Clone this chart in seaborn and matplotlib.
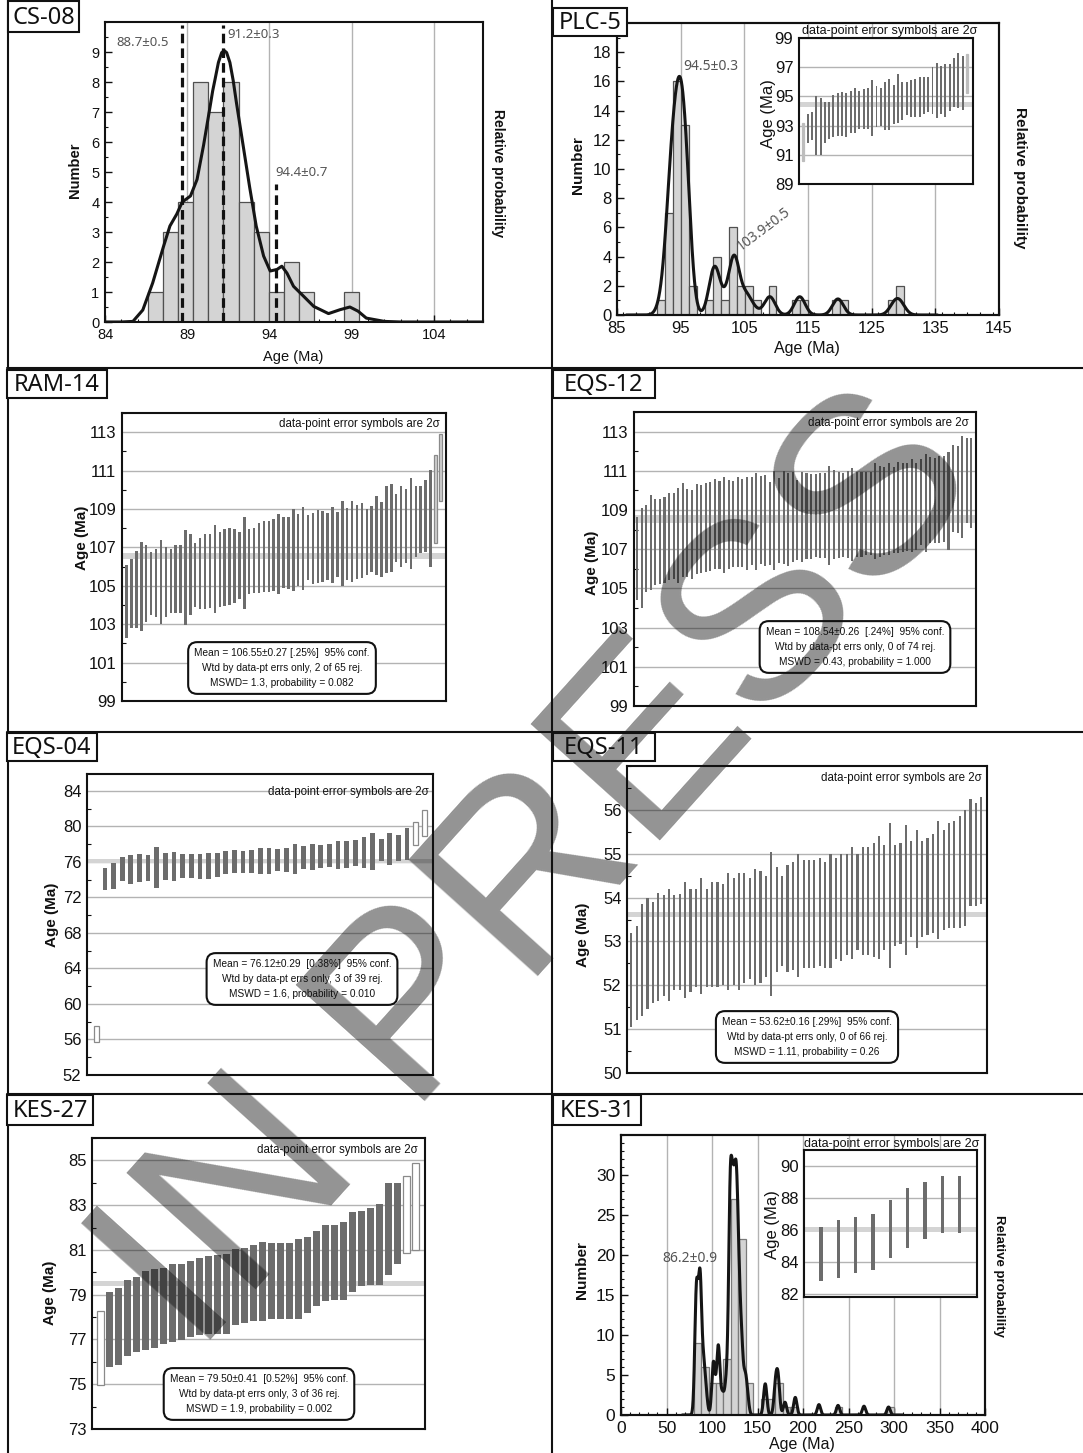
import numpy as np
import matplotlib
matplotlib.use("Agg")
import matplotlib.pyplot as plt
import seaborn as sns
from matplotlib.patches import Rectangle
from matplotlib.lines import Line2D
from matplotlib.ticker import MultipleLocator

# ======================= DATA =======================
# --- CS-08 histogram + probability curve ---
cs08_bin_start = 86.64
cs08_bin_width = 0.914
cs08_counts = [1, 3, 4, 8, 7, 8, 4, 3, 1, 2, 1, 0, 0, 1]
cs08_curve_age = [84.0, 85.0, 85.7, 86.3, 86.9, 87.55, 87.95, 88.37, 88.7, 89.2,
                  89.6, 90.0, 90.2, 90.4, 90.55, 90.7, 90.9, 91.1, 91.25, 91.4,
                  91.6, 91.8, 92.0, 92.2, 92.4, 92.6, 92.8, 93.2, 93.65, 94.05,
                  94.46, 94.76, 95.07, 95.47, 96.08, 96.7, 97.6, 98.3, 98.9, 99.4,
                  99.9, 101.0, 102.0, 107.0]
cs08_curve_val = [0.0, 0.0, 0.02, 0.4, 1.3, 2.5, 3.2, 3.6, 4.0, 4.2,
                  4.75, 5.9, 6.55, 7.2, 7.7, 8.1, 8.65, 8.98, 9.05, 8.98,
                  8.65, 8.05, 7.3, 6.6, 5.9, 5.2, 4.5, 3.2, 2.2, 1.7,
                  1.75, 1.86, 1.63, 1.19, 0.86, 0.52, 0.28, 0.41, 0.5, 0.36,
                  0.13, 0.02, 0.0, 0.0]
cs08_peak_ages = [88.7, 91.2, 94.4]
cs08_peak_tops = [9.9, 9.9, 4.6]
cs08_peak_labels = ["88.7±0.5", "91.2±0.3", "94.4±0.7"]

# --- PLC-5 histogram + probability curve (peak components) ---
plc_bin_start = 91.3
plc_bin_width = 1.25
plc_counts = [1, 7, 16, 13, 2, 0, 1, 4, 1, 6, 2, 2, 1, 0, 2, 0, 0, 1, 1, 0,
              0, 0, 1, 1, 0, 0, 0, 0, 0, 1, 2]
plc_comp_age = [92.3, 93.5, 94.7, 95.8, 100.3, 101.8, 103.4, 105.3, 106.6,
                109.0, 113.7, 119.7, 128.6, 129.5]
plc_comp_height = [1.0, 7.4, 10.1, 8.0, 3.2, 0.6, 3.9, 1.2, 0.3,
                   1.25, 1.25, 1.1, 0.65, 0.65]
plc_bw = 0.85
plc_labels = ["94.5±0.3", "103.9±0.5"]
# PLC-5 inset weighted mean
plc_in_top = [93.2, 93.8, 93.9, 95.0, 94.9, 94.6, 94.6, 95.1, 95.2, 95.3,
              95.2, 95.4, 95.6, 95.4, 95.5, 95.6, 96.1, 95.7, 95.6, 96.0,
              96.2, 95.8, 96.5, 96.0, 96.0, 96.1, 96.2, 96.3, 96.3, 96.3,
              97.0, 97.3, 97.1, 97.2, 97.2, 97.6, 98.0, 97.8, 97.9]
plc_in_bot = [90.6, 91.8, 92.0, 91.0, 91.0, 91.8, 92.1, 92.2, 92.3, 92.3,
              92.2, 92.5, 92.5, 92.8, 92.8, 92.8, 92.3, 92.9, 93.0, 92.7,
              92.7, 93.1, 93.2, 93.4, 93.7, 93.6, 93.6, 93.6, 93.8, 93.9,
              93.8, 93.5, 93.8, 93.6, 94.0, 94.3, 94.2, 94.1, 95.2]
plc_in_status = ["r"] + ["a"] * 37 + ["r"]
plc_in_mean, plc_in_band = 94.45, 0.17

# --- KES-31 histogram + probability curve ---
kes31_bin_start = 80.0
kes31_bin_width = 8.15
kes31_counts = [9, 6, 4, 4, 7, 27, 22, 4, 0, 2, 2, 4, 1, 1, 0, 0, 0, 0, 0, 1,
                0, 0, 0, 0, 0, 0, 1]
kes31_comp_age = [82.9, 86.9, 90.8, 93.6, 101.6, 106.9, 111.5, 115.8, 120.0,
                  123.2, 126.4, 129.2, 132.4, 136.3, 138.8, 158.5, 169.8,
                  172.6, 180.2, 191.5, 217.5, 238.5, 267.0, 294.0]
kes31_comp_height = [15.3, 16.4, 5.5, 2.0, 6.6, 8.6, 2.5, 4.0, 25.7,
                     21.3, 23.3, 13.6, 8.0, 4.0, 2.0, 3.9, 3.5,
                     4.3, 1.6, 2.2, 1.3, 1.2, 1.1, 1.0]
kes31_bw = 1.8
kes31_label = "86.2±0.9"
kes31_in_top = [86.15, 86.6, 86.8, 87.0, 87.9, 88.6, 89.0, 89.35, 89.35]
kes31_in_bot = [82.8, 83.0, 83.3, 83.5, 84.25, 84.85, 85.4, 85.8, 85.8]
kes31_in_status = ["a"] * 9
kes31_in_mean, kes31_in_band = 86.05, 0.16

# --- RAM-14 weighted mean ---
ram_top = [106.1, 106.4, 106.8, 107.3, 107.1, 106.75, 106.9, 107.4, 107.0, 106.9,
           107.1, 107.1, 107.9, 107.7, 107.25, 107.5, 107.7, 107.7, 108.15, 107.8,
           107.95, 108.0, 107.95, 107.8, 108.6, 107.95, 108.0, 108.25, 108.35, 108.35,
           108.5, 108.75, 108.6, 108.6, 109.0, 108.75, 109.1, 108.7, 108.8, 108.95,
           108.9, 108.8, 109.1, 108.85, 109.4, 109.05, 109.4, 109.2, 109.3, 109.0,
           109.15, 109.7, 109.35, 110.2, 110.3, 109.8, 110.2, 110.05, 110.6, 110.2,
           110.2, 110.5, 111.05, 111.8, 112.9]
ram_bot = [102.3, 102.8, 102.8, 102.65, 103.1, 103.5, 103.4, 103.0, 103.4, 103.6,
           103.6, 103.6, 102.95, 103.5, 103.9, 103.8, 103.8, 103.85, 103.6, 103.9,
           103.95, 104.0, 104.1, 104.3, 103.8, 104.55, 104.6, 104.6, 104.7, 104.7,
           104.75, 104.55, 104.9, 104.85, 104.75, 105.0, 104.8, 105.3, 105.1, 105.15,
           105.2, 105.3, 105.15, 105.45, 105.0, 105.3, 105.2, 105.35, 105.4, 105.55,
           105.7, 105.55, 105.45, 105.65, 105.7, 106.25, 106.0, 106.2, 105.85, 106.5,
           106.7, 106.75, 106.0, 107.25, 109.4]
ram_status = ["a"] * 63 + ["r"] * 2
ram_mean, ram_band = 106.55, 0.15
ram_stats = ["Mean = 106.55±0.27 [.25%]  95% conf.",
             "Wtd by data-pt errs only, 2 of 65 rej.",
             "MSWD= 1.3, probability = 0.082"]

# --- EQS-12 weighted mean ---
eqs12_top = [108.66, 109.1, 109.25, 109.77, 109.55, 109.56, 109.68, 109.85, 109.89, 110.1,
             110.36, 110.06, 110.0, 110.33, 110.28, 110.4, 110.45, 110.6, 110.48, 110.67,
             110.53, 110.48, 110.67, 110.6, 110.67, 110.67, 110.9, 110.74, 110.79, 110.41,
             110.99, 110.62, 110.99, 110.9, 110.96, 110.53, 110.96, 110.87, 110.84, 110.84,
             110.87, 110.87, 111.25, 111.04, 110.96, 110.9, 111.0, 111.13, 110.96, 110.96,
             110.96, 110.96, 111.42, 111.25, 111.21, 111.38, 111.21, 111.47, 111.38, 111.42,
             111.59, 111.38, 111.59, 111.86, 111.69, 111.64, 111.76, 111.76, 111.98, 112.32,
             112.27, 112.75, 112.66, 112.66]
eqs12_bot = [104.4, 104.0, 104.8, 104.9, 105.17, 105.2, 105.25, 105.42, 105.46, 105.25,
             105.6, 105.56, 105.5, 105.73, 105.81, 105.85, 105.88, 105.97, 105.97, 105.8,
             105.97, 106.07, 106.1, 106.1, 105.93, 106.19, 105.93, 106.24, 106.14, 106.19,
             105.93, 106.3, 106.27, 106.14, 106.36, 106.44, 106.36, 106.48, 106.48, 106.61,
             106.53, 106.53, 106.19, 106.48, 106.53, 106.61, 106.53, 106.41, 106.61, 106.61,
             106.7, 106.7, 106.48, 106.61, 106.7, 106.7, 106.82, 106.79, 106.87, 106.92,
             106.87, 106.96, 107.21, 106.87, 107.3, 107.3, 107.33, 107.38, 106.96, 107.89,
             107.81, 107.55, 108.32, 108.06]
eqs12_status = ["a"] * 74
eqs12_mean, eqs12_band = 108.54, 0.21
eqs12_stats = ["Mean = 108.54±0.26  [.24%]  95% conf.",
               "Wtd by data-pt errs only, 0 of 74 rej.",
               "MSWD = 0.43, probability = 1.000"]

# --- EQS-04 weighted mean ---
eqs04_top = [57.5, 75.3, 75.9, 76.5, 76.8, 76.9, 76.8, 77.7, 76.95, 77.1, 76.9,
             76.9, 76.85, 77.0, 77.0, 77.2, 77.3, 77.2, 77.35, 77.55, 77.6,
             77.5, 77.55, 78.0, 77.8, 78.05, 77.9, 78.0, 78.35, 78.35, 78.5,
             78.8, 79.3, 78.55, 79.25, 79.0, 79.8, 80.5, 81.8]
eqs04_bot = [55.75, 72.8, 73.0, 73.8, 73.5, 73.7, 73.8, 73.1, 74.0, 73.9, 74.2,
             74.2, 74.1, 74.1, 74.3, 74.6, 74.7, 74.75, 74.7, 74.6, 74.65,
             75.0, 74.9, 74.6, 75.2, 75.1, 75.35, 75.45, 75.25, 75.3, 75.5,
             75.3, 75.1, 76.05, 75.6, 76.1, 76.2, 77.9, 78.9]
eqs04_status = ["r"] + ["a"] * 36 + ["r"] * 2
eqs04_mean, eqs04_band = 76.12, 0.22
eqs04_stats = ["Mean = 76.12±0.29  [0.38%]  95% conf.",
               "Wtd by data-pt errs only, 3 of 39 rej.",
               "MSWD = 1.6, probability = 0.010"]

# --- EQS-11 weighted mean ---
eqs11_top = [53.2, 53.35, 53.85, 54.0, 53.9, 54.1, 54.05, 54.2, 54.05, 54.08,
             54.35, 54.2, 54.2, 54.45, 54.2, 54.35, 54.35, 54.3, 54.55, 54.45,
             54.55, 54.55, 54.45, 54.65, 54.6, 54.5, 55.05, 54.7, 54.5, 54.75,
             54.8, 55.0, 54.85, 54.85, 54.85, 54.9, 54.8, 55.0, 54.9, 55.0,
             55.0, 55.15, 55.0, 55.15, 55.15, 55.25, 55.4, 55.2, 55.7, 55.2,
             55.25, 55.65, 55.3, 55.55, 55.3, 55.35, 55.45, 55.75, 55.55, 55.7,
             55.75, 55.85, 56.0, 56.25, 56.15, 56.3]
eqs11_bot = [51.05, 51.2, 51.3, 51.45, 51.6, 51.65, 51.75, 51.65, 51.9, 51.9,
             51.7, 51.85, 51.95, 51.8, 51.95, 51.95, 51.95, 52.0, 51.9, 52.0,
             51.9, 52.05, 52.15, 52.0, 52.05, 52.2, 51.75, 52.3, 52.45, 52.3,
             52.35, 52.2, 52.4, 52.4, 52.4, 52.45, 52.4, 52.4, 52.6, 52.55,
             52.7, 52.6, 52.8, 52.7, 52.7, 52.65, 52.6, 52.8, 52.4, 52.9,
             52.95, 52.7, 53.1, 52.85, 53.1, 53.15, 53.2, 53.05, 53.25, 53.3,
             53.3, 53.3, 53.35, 53.8, 53.8, 53.85]
eqs11_status = ["a"] * 66
eqs11_mean, eqs11_band = 53.62, 0.06
eqs11_stats = ["Mean = 53.62±0.16 [.29%]  95% conf.",
               "Wtd by data-pt errs only, 0 of 66 rej.",
               "MSWD = 1.11, probability = 0.26"]

# --- KES-27 weighted mean ---
kes27_top = [78.25, 79.14, 79.3, 79.66, 79.8, 80.06, 80.15, 80.18, 80.37, 80.36,
             80.52, 80.62, 80.74, 80.77, 80.8, 81.02, 81.1, 81.22, 81.34, 81.3,
             81.3, 81.33, 81.51, 81.56, 81.86, 82.1, 82.1, 82.26, 82.7, 82.75,
             82.88, 83.04, 83.97, 83.97, 84.3, 84.9]
kes27_bot = [74.95, 75.75, 75.84, 76.24, 76.43, 76.54, 76.6, 76.79, 76.88, 76.98,
             77.13, 77.18, 77.23, 77.23, 77.25, 77.65, 77.72, 77.83, 77.83, 77.9,
             77.9, 77.9, 77.9, 78.17, 78.51, 78.72, 78.75, 78.77, 79.1, 79.4,
             79.43, 79.43, 79.88, 80.37, 80.85, 81.0]
kes27_status = ["r"] + ["a"] * 33 + ["r"] * 2
kes27_mean, kes27_band = 79.50, 0.09
kes27_stats = ["Mean = 79.50±0.41  [0.52%]  95% conf.",
               "Wtd by data-pt errs only, 3 of 36 rej.",
               "MSWD = 1.9, probability = 0.002"]

note_text = "data-point error symbols are 2σ"
watermark_text = "IN PRESS"

# ======================= FIGURE =======================
sns.set_theme(style="white")
plt.rcParams["font.family"] = ["Liberation Sans", "DejaVu Sans"]
plt.rcParams["text.color"] = "#111111"
plt.rcParams["axes.labelcolor"] = "#111111"

W, H = 1083, 1453
fig = plt.figure(figsize=(W / 100, H / 100), dpi=100)
fig.patch.set_facecolor("white")


def rect(l, t, r, b):
    return [l / W, 1 - b / H, (r - l) / W, (b - t) / H]


def fx(x):
    return x / W


def fy(y):
    return 1 - y / H


def ftext(x, y, s, **kw):
    kw.setdefault("ha", "center")
    kw.setdefault("va", "center")
    return fig.text(fx(x), fy(y), s, **kw)


DARK = "#111111"
BAR = "#6c6c6c"
GRID = "#b3b3b3"


def frame(ax, lw=1.5):
    for s in ax.spines.values():
        s.set_visible(True)
        s.set_linewidth(lw)
        s.set_color(DARK)


def hist_axes(pos, start, width, counts, xlim, xmaj, xmin, ylim, ymaj, ymin,
              grid_x, fs, edge="#505050"):
    ax = fig.add_axes(rect(*pos))
    edges = [start + width * i for i in range(len(counts) + 1)]
    centers = [e + width / 2 for e in edges[:-1]]
    sns.histplot(x=centers, weights=list(counts), bins=edges, ax=ax,
                 color="#d4d4d4", edgecolor=edge, linewidth=0.9, alpha=1,
                 zorder=2)
    for g in grid_x:
        ax.axvline(g, color=GRID, lw=1.0, zorder=0.5)
    ax.set_xlim(*xlim)
    ax.set_ylim(*ylim)
    ax.set_xticks(xmaj)
    ax.set_yticks(ymaj)
    ax.xaxis.set_minor_locator(MultipleLocator(xmin))
    ax.yaxis.set_minor_locator(MultipleLocator(ymin))
    ax.tick_params(which="both", direction="in", bottom=True, left=True,
                   top=False, right=False, labelsize=fs, colors=DARK, pad=4)
    ax.tick_params(which="major", length=5, width=1)
    ax.tick_params(which="minor", length=2.5, width=0.8)
    ax.set_xlabel("")
    ax.set_ylabel("")
    frame(ax)
    return ax


def kde_curve(ax, ages, heights, bw, ytop):
    a = np.asarray(ages, float)
    w = np.asarray(heights, float)
    wn = w / w.sum()
    mu = (wn * a).sum()
    sd = np.sqrt((wn * (a - mu) ** 2).sum() / (1 - (wn ** 2).sum()))
    ax2 = ax.twinx()
    sns.kdeplot(x=list(a), weights=list(w), bw_method=bw / sd, gridsize=4000,
                cut=5, ax=ax2, color="#151515", linewidth=2.2, zorder=4)
    ax2.set_ylim(0, ytop / (w.sum() * bw * np.sqrt(2 * np.pi)))
    ax2.set_yticks([])
    ax2.set_ylabel("")
    ax2.tick_params(right=False)
    frame(ax2)
    return ax2


def wm_axes(pos, tops, bots, status, ylim, yticks, xlim, mean, band, bar_w,
            fs, minor, rej_fc="white", rej_ec="#8a8a8a", lw=1.5):
    ax = fig.add_axes(rect(*pos))
    ax.set_facecolor("white")
    tops = np.asarray(tops, float)
    bots = np.asarray(bots, float)
    st = np.asarray(status)
    xs = np.arange(1, len(tops) + 1)
    ax.axhspan(mean - band, mean + band, color="#d4d4d4", lw=0, zorder=1)
    acc = st == "a"
    rej = st == "r"
    ax.bar(xs[acc], (tops - bots)[acc], bottom=bots[acc], width=bar_w,
           color=BAR, lw=0, zorder=3)
    if rej.any():
        ax.bar(xs[rej], (tops - bots)[rej], bottom=bots[rej], width=bar_w,
               facecolor=rej_fc, edgecolor=rej_ec, lw=0.9, zorder=3)
    ax.set_xlim(*xlim)
    ax.set_ylim(*ylim)
    ax.set_xticks([])
    ax.set_yticks(yticks)
    ax.yaxis.set_minor_locator(MultipleLocator(minor))
    ax.yaxis.grid(True, which="major", color=GRID, lw=1.0)
    ax.set_axisbelow(True)
    ax.tick_params(axis="y", which="both", direction="in", left=True,
                   labelsize=fs, pad=4, colors=DARK)
    ax.tick_params(axis="y", which="major", length=0)
    ax.tick_params(axis="y", which="minor", length=3, width=0.8)
    frame(ax, lw)
    return ax


def stats_box(x, y, lines, fs=7.3):
    ftext(x, y, "\n".join(lines), fontsize=fs, linespacing=1.6,
          multialignment="center",
          bbox=dict(boxstyle="round,pad=0.6,rounding_size=0.9", fc="white",
                    ec=DARK, lw=1.5))


def label_box(l, t, r, b, s):
    fig.add_artist(Rectangle((fx(l), fy(b)), (r - l) / W, (b - t) / H,
                             transform=fig.transFigure, fc="white", ec=DARK,
                             lw=1.5, zorder=5))
    ftext((l + r) / 2, (t + b) / 2 + 1, s, fontsize=17, family="Noto Sans",
          zorder=6)


# ---------------- CS-08 ----------------
ax = hist_axes((105, 22, 483, 322), cs08_bin_start, cs08_bin_width, cs08_counts,
               (84, 107), [84, 89, 94, 99, 104], 1, (0, 10), list(range(10)), 0.5,
               [89, 94, 99, 104], 10.5)
sns.lineplot(x=cs08_curve_age, y=cs08_curve_val, ax=ax, color="#151515",
             linewidth=2.2, estimator=None, sort=False, zorder=4)
ax.vlines(cs08_peak_ages, 0, cs08_peak_tops, colors=DARK,
          linestyles=(0, (3.0, 1.6)), lw=2.3, zorder=5)
ax.set_xlim(84, 107)
ax.set_ylim(0, 10)
ax.set_xlabel("")
ax.set_ylabel("")
ftext(143, 43, cs08_peak_labels[0], fontsize=9.5, color="#555555", family="Noto Sans")
ftext(254, 35, cs08_peak_labels[1], fontsize=9.5, color="#555555", family="Noto Sans")
ftext(302, 172, cs08_peak_labels[2], fontsize=9.5, color="#555555", family="Noto Sans")
ftext(75, 170, "Number", rotation=90, fontsize=10.5, fontweight="bold")
ftext(293, 357, "Age (Ma)", fontsize=10.5)
ftext(498, 173, "Relative probability", rotation=270, fontsize=10, fontweight="bold")

# ---------------- PLC-5 ----------------
ax = hist_axes((617, 23, 999, 315), plc_bin_start, plc_bin_width, plc_counts,
               (85, 145), list(range(85, 146, 10)), 2, (0, 20),
               list(range(0, 19, 2)), 1, [95, 105, 115, 125, 135], 12)
kde_curve(ax, plc_comp_age, plc_comp_height, plc_bw, 20)
ax.set_xlim(85, 145)
ftext(711, 66, plc_labels[0], fontsize=10, color="#555555", family="Noto Sans")
ftext(764, 229, plc_labels[1], fontsize=10, color="#555555", family="Noto Sans",
      rotation=37)
ftext(578, 165, "Number", rotation=90, fontsize=11, fontweight="bold")
ftext(807, 349, "Age (Ma)", fontsize=11.5)
ftext(1020, 178, "Relative probability", rotation=270, fontsize=11, fontweight="bold")
axi = wm_axes((799, 38, 973, 184), plc_in_top, plc_in_bot, plc_in_status,
              (89, 99), [89, 91, 93, 95, 97, 99], (0.0, 40.4),
              plc_in_mean, plc_in_band, 0.45, 12, 1, rej_fc="#bdbdbd",
              rej_ec="#bdbdbd")
axi.tick_params(axis="y", which="minor", length=0)
ftext(890, 31, note_text, fontsize=9)
ftext(768, 114, "Age (Ma)", rotation=90, fontsize=12)

# ---------------- KES-31 ----------------
ax = hist_axes((621, 1135, 985, 1415), kes31_bin_start, kes31_bin_width,
               kes31_counts, (0, 400), list(range(0, 401, 50)), 10, (0, 35),
               list(range(0, 31, 5)), 1, [50, 100, 150, 200, 250, 300, 350],
               12.5, edge="#7a7a7a")
kde_curve(ax, kes31_comp_age, kes31_comp_height, kes31_bw, 35)
ax.set_xlim(0, 400)
ftext(690, 1258, kes31_label, fontsize=10, color="#555555", family="Noto Sans")
ftext(582, 1270, "Number", rotation=90, fontsize=11, fontweight="bold")
ftext(802, 1444, "Age (Ma)", fontsize=11.5)
ftext(999, 1276, "Relative probability", rotation=270, fontsize=9.5, fontweight="bold")
axi = wm_axes((804, 1150, 977, 1297), kes31_in_top, kes31_in_bot,
              kes31_in_status, (81.8, 91), [82, 84, 86, 88, 90], (0.02, 10),
              kes31_in_mean, kes31_in_band, 0.2, 12, 1)
axi.tick_params(axis="y", which="minor", length=0)
ftext(892, 1144, note_text, fontsize=9)
ftext(772, 1225, "Age (Ma)", rotation=90, fontsize=12)

# ---------------- RAM-14 ----------------
wm_axes((122, 413, 446, 701), ram_top, ram_bot, ram_status, (99, 114),
        list(range(99, 114, 2)), (0.05, 66.16), ram_mean, ram_band, 0.5, 12, 1,
        rej_fc="#d0d0d0", rej_ec="#8a8a8a")
ftext(440, 424, note_text, fontsize=8.3, ha="right")
stats_box(282, 668, ram_stats)
ftext(82, 538, "Age (Ma)", rotation=90, fontsize=11, fontweight="bold")

# ---------------- EQS-12 ----------------
wm_axes((634, 412, 976, 706), eqs12_top, eqs12_bot, eqs12_status, (99, 114),
        list(range(99, 114, 2)), (0.34, 75.0), eqs12_mean, eqs12_band, 0.45, 12, 1)
ftext(969, 423, note_text, fontsize=8.3, ha="right")
stats_box(855, 647, eqs12_stats)
ftext(592, 563, "Age (Ma)", rotation=90, fontsize=11, fontweight="bold")

# ---------------- EQS-04 ----------------
wm_axes((87, 774, 433, 1075), eqs04_top, eqs04_bot, eqs04_status, (52, 85.9),
        list(range(52, 85, 4)), (-0.08, 40.0), eqs04_mean, eqs04_band, 0.55, 12, 2)
ftext(429, 792, note_text, fontsize=8.3, ha="right")
stats_box(302, 979, eqs04_stats)
ftext(52, 915, "Age (Ma)", rotation=90, fontsize=11, fontweight="bold")

# ---------------- EQS-11 ----------------
wm_axes((627, 766, 987, 1073), eqs11_top, eqs11_bot, eqs11_status, (50, 57),
        list(range(50, 57)), (0.2, 67.05), eqs11_mean, eqs11_band, 0.4, 12, 0.5)
ftext(982, 778, note_text, fontsize=8.3, ha="right")
stats_box(807, 1037, eqs11_stats)
ftext(583, 935, "Age (Ma)", rotation=90, fontsize=11, fontweight="bold")

# ---------------- KES-27 ----------------
wm_axes((92, 1138, 425, 1429), kes27_top, kes27_bot, kes27_status, (73, 86),
        list(range(73, 86, 2)), (0.08, 37.03), kes27_mean, kes27_band, 0.72, 12, 1)
ftext(418, 1150, note_text, fontsize=8.3, ha="right")
stats_box(259, 1394, kes27_stats)
ftext(50, 1293, "Age (Ma)", rotation=90, fontsize=11, fontweight="bold")

# ---------------- panel separators & labels ----------------
for (xs_, ys_) in [([552, 552], [0, H]), ([7.5, 7.5], [0, H]),
                   ([7, W], [368, 368]), ([7, W], [732, 732]),
                   ([7, W], [1094, 1094])]:
    fig.add_artist(Line2D([fx(v) for v in xs_], [fy(v) for v in ys_],
                          transform=fig.transFigure, color=DARK, lw=1.5, zorder=4))

label_box(8, 1, 79, 32, "CS-08")
label_box(553, 8, 627, 36, "PLC-5")
label_box(7, 370, 107, 398, "RAM-14")
label_box(553, 370, 655, 398, "EQS-12")
label_box(7, 733, 97, 761, "EQS-04")
label_box(553, 733, 655, 761, "EQS-11")
label_box(7, 1095, 93, 1125, "KES-27")
label_box(553, 1095, 641, 1125, "KES-31")

# ---------------- watermark ----------------
fig.text(fx(542), fy(874), watermark_text, fontsize=182, rotation=48,
         color="#111111", alpha=0.45, ha="center", va="center",
         family="Liberation Sans", zorder=100)

fig.savefig("out.png", dpi=100, facecolor="white")
